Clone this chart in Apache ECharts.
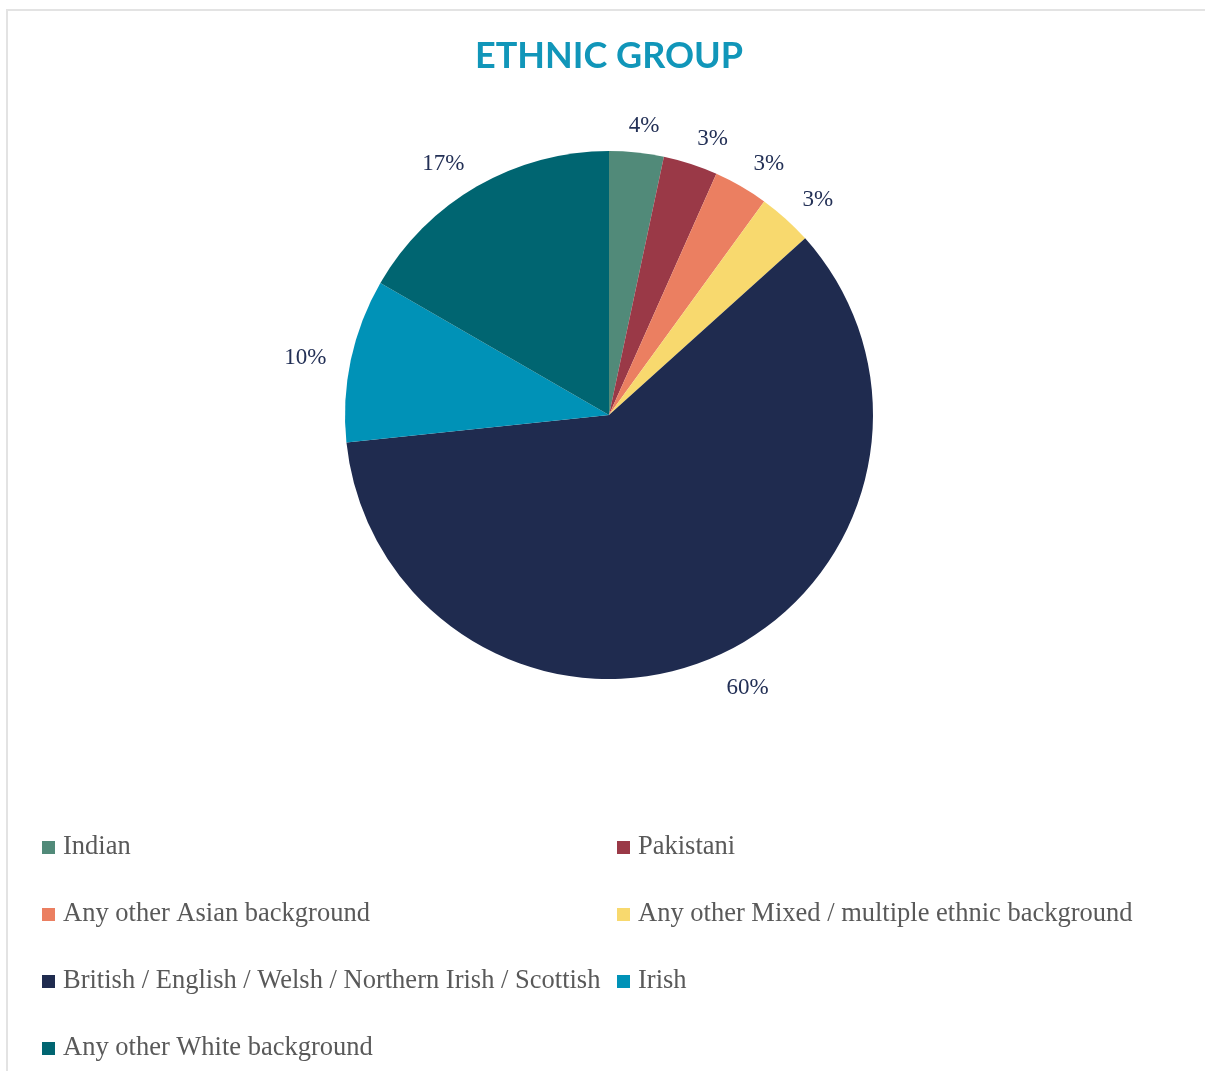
<!DOCTYPE html>
<html>
<head>
<meta charset="utf-8">
<script src="https://cdn.jsdelivr.net/npm/echarts@6/dist/echarts.min.js"></script>
<style>
html,body{margin:0;padding:0;background:#fff;}
#chart{width:1205px;height:1071px;}
</style>
</head>
<body>
<div id="chart"></div>
<script>
var categories = ['Indian', 'Pakistani', 'Any other Asian background', 'Any other Mixed / multiple ethnic background', 'British / English / Welsh / Northern Irish / Scottish', 'Irish', 'Any other White background'];
var values = [1, 1, 1, 1, 18, 3, 5];
var colors = ['#518a79', '#9a3947', '#eb7f61', '#f8d96e', '#1f2b4f', '#0092b7', '#006571'];
var legendLeft = ['Indian', 'Any other Asian background', 'British / English / Welsh / Northern Irish / Scottish', 'Any other White background'];
var legendRight = ['Pakistani', 'Any other Mixed / multiple ethnic background', 'Irish'];

var chart = echarts.init(document.getElementById('chart'), null, {renderer: 'canvas'});

var pieData = categories.map(function (c, i) {
  return {name: c, value: values[i], itemStyle: {color: colors[i]}};
});

var legendText = {fontFamily: '"Liberation Serif", "Times New Roman", serif', fontSize: 26.5, color: '#595959', lineHeight: 27, padding: [0, 0, 0, 3]};

var option = {
  backgroundColor: '#ffffff',
  animation: false,
  title: {
    text: 'ETHNIC GROUP',
    left: 609,
    textAlign: 'center',
    top: 38,
    padding: 0,
    textStyle: {fontFamily: 'Lato, "Open Sans", sans-serif', fontWeight: 'bold', fontSize: 36, color: '#1196b9'}
  },
  graphic: [{
    type: 'rect',
    shape: {x: 7, y: 10, width: 1400, height: 1200},
    style: {fill: 'none', stroke: '#e3e3e3', lineWidth: 2},
    silent: true
  }],
  legend: [{
    orient: 'vertical',
    left: 42,
    top: 834,
    padding: 0,
    itemWidth: 13,
    itemHeight: 13,
    itemGap: 40,
    icon: 'rect',
    data: legendLeft,
    textStyle: legendText,
    selectedMode: false
  }, {
    orient: 'vertical',
    left: 617,
    top: 834,
    padding: 0,
    itemWidth: 13,
    itemHeight: 13,
    itemGap: 40,
    icon: 'rect',
    data: legendRight,
    textStyle: legendText,
    selectedMode: false
  }],
  series: [{
    type: 'pie',
    center: [609, 415],
    radius: 264,
    startAngle: 90,
    clockwise: true,
    percentPrecision: 0,
    avoidLabelOverlap: false,
    data: pieData,
    itemStyle: {borderWidth: 0},
    label: {
      show: true,
      position: 'outside',
      formatter: '{d}%',
      fontFamily: '"Liberation Serif", "Times New Roman", serif',
      fontSize: 23,
      color: '#233056',
      distanceToLabelLine: 0
    },
    labelLine: {show: true, length: 25, length2: 0, lineStyle: {opacity: 0, width: 0}},
    labelLayout: function (p) {
      var pts = p.labelLinePoints;
      if (!pts || pts.length < 2) { return {}; }
      var dx = pts[1][0] - pts[0][0];
      var dy = pts[1][1] - pts[0][1];
      var len = Math.sqrt(dx * dx + dy * dy) || 1;
      dx /= len; dy /= len;
      var gx = (dx < 0 ? -1 : 1) * Math.min(1, Math.abs(dx) * 3);
      var w = p.labelRect.width / 2, h = p.labelRect.height / 2;
      return {x: pts[1][0] + w * gx, y: pts[1][1] + h * dy * 0.45 + 4, align: 'center', verticalAlign: 'middle'};
    },
    emphasis: {disabled: true}
  }]
};
chart.setOption(option);
</script>
</body>
</html>
